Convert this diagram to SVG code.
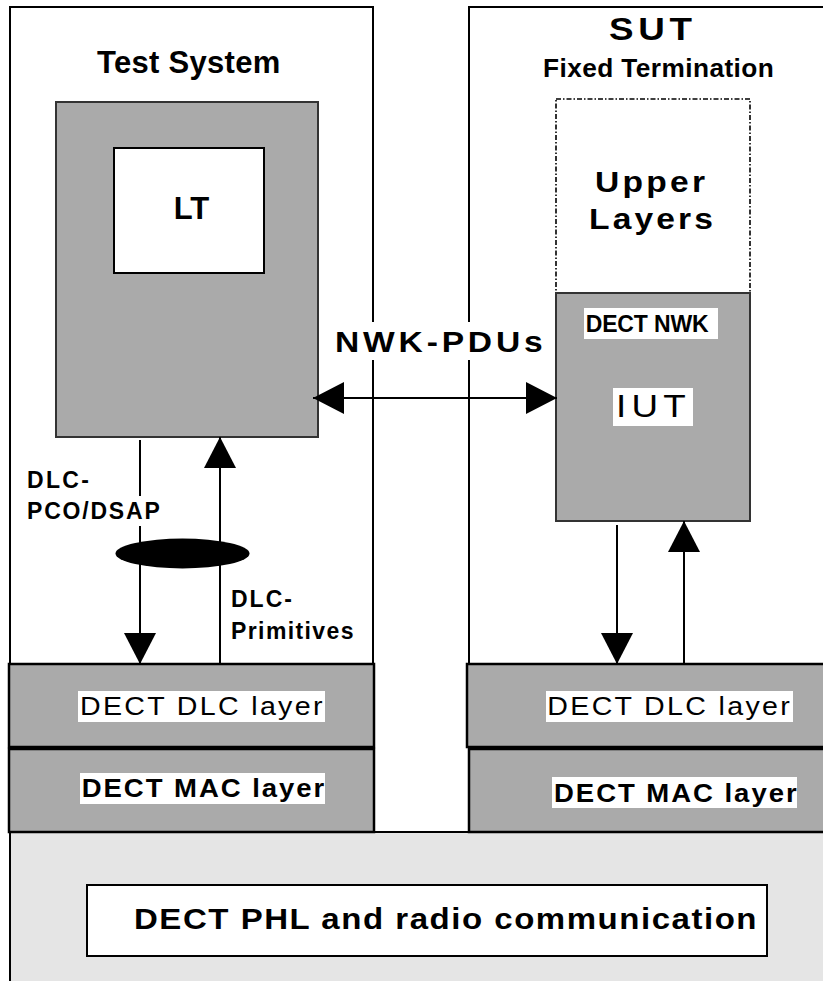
<svg xmlns="http://www.w3.org/2000/svg" width="823" height="981" viewBox="0 0 823 981">
<style>
  .frame{fill:#ffffff;stroke:#000;stroke-width:2}
  .grey{fill:#aaaaaa;stroke:#333;stroke-width:2}
  .layer{fill:#aaaaaa;stroke:#000;stroke-width:2.5}
  .white{fill:#ffffff;stroke:#000;stroke-width:2}
  .bg{fill:#ffffff;stroke:none}
  .dash{fill:#ffffff;stroke:#000;stroke-width:1.6;stroke-dasharray:5 2 1.5 2}
  .conn{stroke:#000;stroke-width:2;fill:none}
  text{font-family:"Liberation Sans",Arial,Helvetica,sans-serif;fill:#000}
  .b{font-weight:bold}
</style>
<defs>
  <marker id="ah" markerUnits="userSpaceOnUse" markerWidth="32" markerHeight="32" viewBox="0 0 32 32" refX="31" refY="16" orient="auto-start-reverse">
    <path d="M0,0 L31,16 L0,32 Z" fill="#000"/>
  </marker>
</defs>

<g id="test-system">
  <rect class="frame" x="10" y="7" width="363" height="657"/>
  <text class="b" x="97" y="73" font-size="31" letter-spacing="0.3">Test System</text>
</g>

<g id="sut">
  <rect class="frame" x="469" y="7" width="380" height="657"/>
  <text class="b" transform="translate(609,40) scale(1.15,1)" font-size="32" letter-spacing="4.1">SUT</text>
  <text class="b" transform="translate(543,77) scale(1.05,1)" font-size="25" letter-spacing="0.4">Fixed Termination</text>
</g>

<g id="phl-area">
  <rect x="10" y="832" width="840" height="170" fill="#e5e5e5" stroke="#000" stroke-width="2"/>
</g>

<g id="lt-box">
  <rect class="grey" x="56" y="102" width="262" height="335"/>
  <rect class="white" x="114" y="148" width="150" height="125"/>
  <text class="b" x="191.5" y="219" font-size="31" text-anchor="middle">LT</text>
</g>

<g id="upper-layers">
  <rect class="dash" x="556" y="99" width="194" height="194"/>
  <text class="b" transform="translate(595,192) scale(1.12,1)" font-size="30" letter-spacing="2.9">Upper</text>
  <text class="b" transform="translate(589,229) scale(1.12,1)" font-size="30" letter-spacing="2.8">Layers</text>
</g>

<g id="iut">
  <rect class="grey" x="556" y="293" width="194" height="228"/>
  <rect class="bg" x="584" y="308" width="134" height="31"/>
  <text class="b" x="585.7" y="332" font-size="23" letter-spacing="-0.15">DECT NWK</text>
  <rect class="bg" x="613" y="388" width="80" height="38"/>
  <text transform="translate(616,417) scale(1.15,1)" font-size="32" letter-spacing="4.5">IUT</text>
</g>

<g id="dlc-left">
  <rect class="layer" x="9" y="664" width="365" height="83"/>
  <rect class="bg" x="78" y="691" width="247" height="31"/>
  <text transform="translate(80,715) scale(1.1,1)" font-size="26" letter-spacing="2.1">DECT DLC layer</text>
</g>
<g id="mac-left">
  <rect class="layer" x="9" y="749" width="365" height="83"/>
  <rect class="bg" x="80" y="773" width="245" height="31"/>
  <text class="b" transform="translate(81.7,797) scale(1.1,1)" font-size="25" letter-spacing="1.8">DECT MAC layer</text>
</g>
<g id="dlc-right">
  <rect class="layer" x="467" y="664" width="380" height="83"/>
  <rect class="bg" x="546" y="691" width="247" height="31"/>
  <text transform="translate(547.3,715) scale(1.1,1)" font-size="26" letter-spacing="2.1">DECT DLC layer</text>
</g>
<g id="mac-right">
  <rect class="layer" x="469" y="749" width="380" height="83"/>
  <rect class="bg" x="552" y="777" width="245" height="31"/>
  <text class="b" transform="translate(554,801.7) scale(1.1,1)" font-size="25" letter-spacing="1.8">DECT MAC layer</text>
</g>

<g id="phl">
  <rect class="white" x="87" y="885" width="680" height="71"/>
  <text class="b" transform="translate(134,929) scale(1.1,1)" font-size="30" letter-spacing="1.4">DECT PHL and radio communication</text>
</g>

<g id="connectors">
  <line class="conn" x1="140" y1="440" x2="140" y2="664" marker-end="url(#ah)"/>
  <line class="conn" x1="220" y1="664" x2="220" y2="437" marker-end="url(#ah)"/>
  <line class="conn" x1="617" y1="525" x2="617" y2="664" marker-end="url(#ah)"/>
  <line class="conn" x1="684" y1="664" x2="684" y2="521" marker-end="url(#ah)"/>
  <line class="conn" x1="313" y1="398" x2="557" y2="398" marker-start="url(#ah)" marker-end="url(#ah)"/>
  <ellipse cx="182.5" cy="553.5" rx="67" ry="15" fill="#000"/>
</g>

<g id="labels">
  <rect class="bg" x="330" y="322" width="218" height="38"/>
  <text class="b" transform="translate(335,352) scale(1.12,1)" font-size="30" letter-spacing="3.4">NWK-PDUs</text>
  <text class="b" x="27" y="488" font-size="23" letter-spacing="2.3">DLC-</text>
  <rect class="bg" x="25" y="496" width="138" height="30"/>
  <text class="b" x="27" y="519" font-size="23" letter-spacing="1.8">PCO/DSAP</text>
  <text class="b" x="231" y="607" font-size="23" letter-spacing="2">DLC-</text>
  <text class="b" x="231" y="639" font-size="23" letter-spacing="1.4">Primitives</text>
</g>
</svg>
